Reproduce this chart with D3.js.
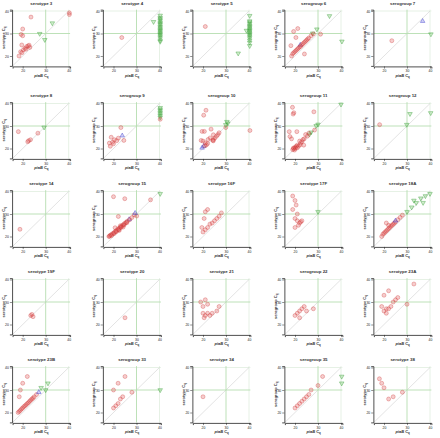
<!DOCTYPE html>
<html><head><meta charset="utf-8">
<script src="https://cdn.jsdelivr.net/npm/d3@7"></script>
<style>body{margin:0;background:#fff}svg{display:block}</style>
</head><body>
<script>
// ---------- DATA ----------
const titles = ["serotype 3","serotype 4","serotype 5","serogroup 6","serogroup 7",
 "serotype 8","serogroup 9","serogroup 10","serogroup 11","serogroup 12",
 "serotype 14","serogroup 15","serotype 16F","serotype 17F","serotype 18A",
 "serotype 19F","serotype 20","serotype 21","serogroup 22","serotype 23A",
 "serotype 23B","serogroup 33","serotype 34","serogroup 35","serotype 38"];
const yLabels = titles.map(t => t.startsWith("serogroup") ? "serogroup" : "serotype");
const tickValues = [20, 30, 40];
// points: [piaB Cq, serotype Cq, kind]  r = red circle, g = green triangle, b = blue triangle
const s3 = [[40.3,39.2,"r"],[40.3,38.4,"r"],[23.6,37.3,"r"],[20,32,"r"],[19.3,29.6,"r"],[20,29,"r"],
 [32.9,34.6,"g"],[27.4,29.9,"g"],[29.6,27.2,"g"],[19.6,24.9,"r"],[21,23.4,"r"],[21.7,24.2,"r"],
 [22.4,24.5,"r"],[20.3,22.7,"r"],[19.1,21.9,"r"],[18.4,20,"r"],[19.7,21.5,"r"],[21.4,23,"r"],[23.1,23.8,"r"],[22.8,24.8,"r"]];
const s4 = [[23.6,28.2,"r"],[37.4,35.2,"g"],[40.3,38,"g"],[40.3,37,"g"],[40.3,36.4,"g"],[40.3,35.8,"g"],
 [40.3,35,"g"],[40.3,34.4,"g"],[40.3,33.8,"g"],[40.3,33,"g"],[40.3,32.4,"g"],[40.3,31.8,"g"],
 [40.3,31.2,"g"],[40.3,30.6,"g"],[40.3,30,"g"],[40.3,29.4,"g"],[40.3,28.8,"g"],[40.3,28,"g"],[40.3,27,"g"],[40.3,26.4,"g"]];
const s5 = [[21,33.1,"r"],[38.9,31.3,"g"],[35.3,21.2,"g"],[40.3,37.9,"g"],[40.3,35.5,"g"],[40.3,35,"g"],
 [40.3,34.3,"g"],[40.3,33.6,"g"],[40.3,33,"g"],[40.3,32.4,"g"],[40.3,31.8,"g"],[40.3,31.2,"g"],
 [40.3,30.6,"g"],[40.3,30,"g"],[40.3,29.4,"g"],[40.3,28.8,"g"],[40.3,28,"g"],[40.3,27,"g"],[40.3,26,"g"],[40.3,24.5,"g"]];
const g6 = [[35,37.8,"g"],[40.6,26.5,"g"],[29.5,31.9,"g"],[27.7,30.1,"g"],[21.2,32.2,"r"],[19.4,30.9,"r"],
 [31.1,29.7,"r"],[18.2,24.6,"r"],[24.1,20.9,"r"],[22.3,24.9,"b"],[18.5,20,"r"],[19,21,"r"],[19.5,21.5,"r"],
 [20,22,"r"],[20.5,22.5,"r"],[21,23,"r"],[21.5,23.5,"r"],[22,24,"r"],[22.5,24.3,"r"],[23,25,"r"],
 [23.5,25.5,"r"],[24,26,"r"],[24.5,26.5,"r"],[25,27,"r"],[25.5,27.5,"r"],[26,28,"r"],[27,29,"r"],[28,29.8,"r"],[20.4,28.2,"r"]];
const g7 = [[36.8,35.5,"b"],[23.4,26.8,"r"],[40.5,29.7,"g"]];
const s8 = [[29.3,29.4,"g"],[18.1,27.5,"r"],[26.6,26.8,"r"],[22.6,23.5,"r"],[23.4,23.9,"r"],[22.2,23,"r"]];
const g9 = [[40.3,38.1,"g"],[40.3,37.4,"g"],[40.3,36.7,"g"],[40.3,36,"g"],[40.3,35.3,"g"],[40.3,34.5,"g"],
 [40.3,33.8,"g"],[40.3,33,"r"],[23.2,29.3,"r"],[23.8,25.7,"b"],[24.5,23.6,"r"],[19,25,"r"],[18.2,22.4,"r"],
 [18.6,21,"r"],[19.6,22.8,"r"],[20.4,23.9,"r"],[21.4,23.5,"r"],[22.1,24.6,"r"],[20,22.1,"r"]];
const g10 = [[21.3,37,"r"],[20.3,34.8,"r"],[40.5,28,"r"],[29.9,29.3,"r"],[23.5,28.6,"r"],[19.6,27.6,"r"],
 [20.6,27.6,"r"],[19.2,23.6,"r"],[20,23.3,"r"],[21,22.5,"r"],[24.5,26.1,"r"],[25.2,24.7,"r"],[25.9,25.5,"r"],
 [24.5,24,"r"],[23.1,24.7,"r"],[22.2,24,"r"],[24.3,23.6,"r"],[24.5,23.4,"r"],[26.5,26.2,"r"],[27,27,"r"],
 [30.4,31.9,"g"],[30.8,31.2,"g"],[29.9,30.5,"g"],[20.3,21,"b"],[19.6,20.3,"b"],[21.5,21.6,"r"],[22,22.2,"r"],[20.8,21.2,"r"]];
const g11 = [[18.9,38.3,"r"],[19.5,35.9,"r"],[19.2,35.3,"r"],[28.2,36.3,"r"],[17.5,27.5,"r"],[20.8,27.5,"r"],
 [17.8,25.3,"r"],[18.5,24.3,"r"],[30,30.7,"g"],[29.2,30.1,"g"],[27,27.2,"g"],[26.3,26.3,"g"],[40,39.6,"g"],
 [24.6,26.2,"r"],[25.4,25.5,"r"],[26,26.8,"r"],[22.5,22.5,"r"],[22,23.3,"r"],[21,21.5,"r"],[20.5,21,"r"],
 [20,20.5,"r"],[19.5,20,"r"],[19,19.5,"r"],[19.3,20.2,"r"],[20.2,20,"r"],[21.5,21,"r"],[22.2,21.6,"r"],
 [23,23,"r"],[23.5,24,"r"],[24,24.3,"r"],[19.8,19.3,"r"],[21,20.3,"r"],[23.8,21.5,"r"],[28.5,28.2,"r"]];
const g12 = [[18.1,30.6,"r"],[31.3,35.4,"g"],[40.3,35.8,"g"],[29.9,30.6,"g"]];
const s14 = [[18.8,23.2,"r"]];
const g15 = [[20,37.7,"r"],[24.9,36.8,"r"],[36.1,36.3,"r"],[40.3,39,"g"],[22.1,28.9,"r"],[29,29.6,"r"],
 [30.1,29.1,"r"],[29.4,30.4,"b"],[26.8,27.6,"b"],[20.7,23.9,"r"],[18,20,"r"],[18.5,20.5,"r"],[19,20.8,"r"],
 [19.5,21.2,"r"],[20,21.5,"r"],[20.5,22,"r"],[21,22.4,"r"],[21.5,22.8,"r"],[22,23.3,"r"],[22.5,23.7,"r"],
 [23,24.2,"r"],[23.5,24.6,"r"],[24,25,"r"],[24.5,25.5,"r"],[25,25.9,"r"],[25.5,26.3,"r"],[26,26.8,"r"],
 [27,27.5,"r"],[28,28.4,"r"],[22.5,22.7,"r"],[24.2,24.2,"r"],[23,24.8,"r"],[18.3,20.1,"r"],[19.2,20.4,"r"],
 [20.3,21.3,"r"],[21.2,22.1,"r"],[22.3,23,"r"],[23.3,24,"r"],[24.6,25.1,"r"],[25.8,26.1,"r"]];
const s16F = [[20,22,"r"],[21,23,"r"],[22,24,"r"],[23,25.5,"r"],[24,26,"r"],[25,27,"r"],[26,28,"r"],
 [27,29,"r"],[20.5,28,"r"],[21,31,"r"],[22,32,"r"],[19.5,24,"r"],[28,30.5,"r"]];
const s17F = [[19,38,"r"],[20,36,"r"],[20.5,34,"r"],[19,32,"r"],[21,30,"r"],[20,28,"r"],[21,27,"r"],
 [22,26,"r"],[21.5,25,"r"],[22.5,26.5,"r"],[23,27,"r"],[20,24,"r"],[30,31,"g"]];
const s18A = [[19,20,"r"],[19.5,21,"r"],[20,21.5,"r"],[20.5,22,"r"],[21,22.5,"r"],[21.5,23,"r"],[22,23.5,"r"],
 [22.5,24,"r"],[23,24.6,"r"],[23.5,25,"r"],[24,25.5,"r"],[24.5,26,"r"],[25,26.5,"r"],[26,27.5,"r"],
 [27,28.5,"r"],[28,29.5,"r"],[30,31,"g"],[32,33,"g"],[34,35,"g"],[36,37,"g"],[38,38,"g"],[40,39,"g"],
 [37,35,"g"],[33,36,"g"],[25,27,"b"],[22,25,"r"],[21,26,"r"]];
const s19F = [[23.5,24,"r"],[24,24.5,"r"],[24.5,23.5,"r"]];
const s20 = [[25,23,"r"]];
const s21 = [[19,30,"r"],[20,28,"r"],[21,31,"r"],[22,29,"r"],[20,25,"r"],[21,24,"r"],[22,25,"r"],
 [23,24,"r"],[24,25,"r"],[20.5,23,"r"],[26,26,"r"],[27,28,"r"]];
const g22 = [[20,24,"r"],[21,25,"r"],[22,26,"r"],[23,27,"r"],[24,28,"r"],[22,23,"r"],[25,26,"r"],[28,27,"r"]];
const s23A = [[20,33,"r"],[22,35,"r"],[19,28,"r"],[20,26,"r"],[21,27,"r"],[22,27,"r"],[23,28,"r"],
 [21,25,"r"],[24,30,"r"],[25,31,"r"],[26,32,"r"],[33,38,"r"],[30,29,"r"]];
const s23B = [[18,20,"r"],[18.5,20.5,"r"],[19,21,"r"],[19.5,21.6,"r"],[20,22,"r"],[20.5,22.6,"r"],[21,23,"r"],
 [21.5,23.5,"r"],[22,24,"r"],[22.5,24.4,"r"],[23,25,"r"],[23.5,25.5,"r"],[24,26,"r"],[24.5,26.4,"r"],
 [25,27,"r"],[26,28,"r"],[19,30,"r"],[20,33,"r"],[22,36,"r"],[18.5,27,"r"],[28,31,"g"],[30,30,"g"],[31,33,"g"],[27,29,"b"]];
const g33 = [[20,22,"r"],[21,23,"r"],[22,24,"r"],[23,26,"r"],[24,27,"r"],[20,30,"r"],[22,33,"r"],
 [25,36,"r"],[28,29,"r"],[40.3,30,"g"]];
const s34 = [[20,27,"r"]];
const g35 = [[20,22,"r"],[21,23,"r"],[22,24,"r"],[23,25,"r"],[24,26,"r"],[25,27,"r"],[26,28,"r"],
 [27,30,"r"],[30,32,"r"],[32,36,"r"],[40.3,36,"g"],[40.3,33,"g"]];
const s38 = [[18,35,"r"],[19,33,"r"],[20,31,"r"],[22,26,"r"],[24,27,"r"],[28,29,"r"]];
const panelData = [s3,s4,s5,g6,g7,s8,g9,g10,g11,g12,s14,g15,s16F,s17F,s18A,s19F,s20,s21,g22,s23A,s23B,g33,s34,g35,s38];

// ---------- LAYOUT ----------
const W = 440, H = 438;
const colX20 = [22.7, 113.5, 203, 295, 384];   // pixel x of value 20 in each column
const rowY20 = [56, 148.5, 236.5, 324.5, 412.5]; // pixel y of value 20 in each row
const pxX = 2.3, pxY = 2.25;
const dom = [15.6, 40.6];

const svg = d3.select("body").append("svg").attr("width", W).attr("height", H)
  .style("font-family", "Arial, 'Liberation Sans', sans-serif");

const colors = {
  r: {fill: "rgba(225,90,90,0.3)", stroke: "rgba(200,40,40,0.6)"},
  g: {fill: "rgba(120,200,110,0.35)", stroke: "rgba(40,150,40,0.75)"},
  b: {fill: "rgba(120,120,230,0.35)", stroke: "rgba(50,50,200,0.8)"}
};

panelData.forEach((pts, i) => {
  const col = i % 5, row = Math.floor(i / 5);
  const x = d3.scaleLinear().domain(dom).range([colX20[col] + (dom[0]-20)*pxX, colX20[col] + (dom[1]-20)*pxX]);
  const y = d3.scaleLinear().domain(dom).range([rowY20[row] - (dom[0]-20)*pxY, rowY20[row] - (dom[1]-20)*pxY]);
  const g = svg.append("g");
  const [x0, x1] = x.range(), [y0, y1] = y.range();

  // reference lines
  g.append("line").attr("x1", x(40)).attr("x2", x(40)).attr("y1", y0).attr("y2", y1)
    .attr("stroke", "#dfeede").attr("stroke-width", 0.8);
  g.append("line").attr("x1", x0).attr("x2", x1).attr("y1", y(40)).attr("y2", y(40))
    .attr("stroke", "#dfeede").attr("stroke-width", 0.8);
  g.append("line").attr("x1", x(dom[0])).attr("y1", y(dom[0])).attr("x2", x(40)).attr("y2", y(40))
    .attr("stroke", "#d0d0d0").attr("stroke-width", 0.6);
  g.append("line").attr("x1", x(30)).attr("x2", x(30)).attr("y1", y0).attr("y2", y1)
    .attr("stroke", "#b6deb0").attr("stroke-width", 0.9);
  g.append("line").attr("x1", x0).attr("x2", x1).attr("y1", y(30)).attr("y2", y(30))
    .attr("stroke", "#b6deb0").attr("stroke-width", 0.9);

  // axes
  const minor = d3.range(16, 41);
  const xa = g.append("g").attr("transform", `translate(0,${y0 + 0.5})`);
  xa.call(d3.axisBottom(x).tickValues(minor).tickSize(1.3).tickFormat(""));
  xa.call(d3.axisBottom(x).tickValues(tickValues).tickSize(2.2).tickPadding(1).tickFormat(d3.format("d")));
  const ya = g.append("g").attr("transform", `translate(${x0 - 0.5},0)`);
  ya.call(d3.axisLeft(y).tickValues(minor).tickSize(1.3).tickFormat(""));
  ya.call(d3.axisLeft(y).tickValues(tickValues).tickSize(2.2).tickPadding(1).tickFormat(d3.format("d")));
  g.selectAll(".domain").attr("stroke", "#222").attr("stroke-width", 0.8);
  g.selectAll(".tick line").attr("stroke", "#222").attr("stroke-width", 0.5);
  g.selectAll(".tick text").attr("font-size", 3.4).attr("fill", "#222");

  // labels
  const cx = (x0 + x1) / 2;
  g.append("text").attr("x", cx).attr("y", y1 - 5).attr("text-anchor", "middle")
    .attr("font-size", 4.4).attr("font-weight", "bold").attr("fill", "#333").text(titles[i]);
  const xl = g.append("text").attr("x", cx).attr("y", y0 + 11).attr("text-anchor", "middle")
    .attr("font-size", 4).attr("font-weight", "bold").attr("fill", "#333");
  xl.append("tspan").attr("font-style", "italic").text("piaB");
  xl.append("tspan").text(" C");
  xl.append("tspan").attr("font-size", 2.8).attr("dy", 1).text("q");
  const cy = (y0 + y1) / 2;
  const yl = g.append("text").attr("transform", `translate(${x0 - 8},${cy}) rotate(-90)`)
    .attr("text-anchor", "middle").attr("font-size", 4).attr("font-weight", "bold").attr("fill", "#333");
  yl.append("tspan").text(yLabels[i] + " C");
  yl.append("tspan").attr("font-size", 2.8).attr("dy", 1).text("q");

  // points
  const clampX = v => Math.min(v, 40.4);
  const r = 2;
  const tri = d3.symbol().type(d3.symbolTriangle).size(9);
  pts.forEach(p => {
    const px = x(clampX(p[0])), py = y(Math.min(p[1], 40.4));
    const c = colors[p[2]];
    if (p[2] === "r") {
      g.append("circle").attr("cx", px).attr("cy", py).attr("r", r)
        .attr("fill", c.fill).attr("stroke", c.stroke).attr("stroke-width", 0.5);
    } else {
      g.append("path").attr("d", tri)
        .attr("transform", `translate(${px},${py}) rotate(${p[2] === "g" ? 180 : 0})`)
        .attr("fill", c.fill).attr("stroke", c.stroke).attr("stroke-width", 0.5);
    }
  });
});
</script>
</body></html>
